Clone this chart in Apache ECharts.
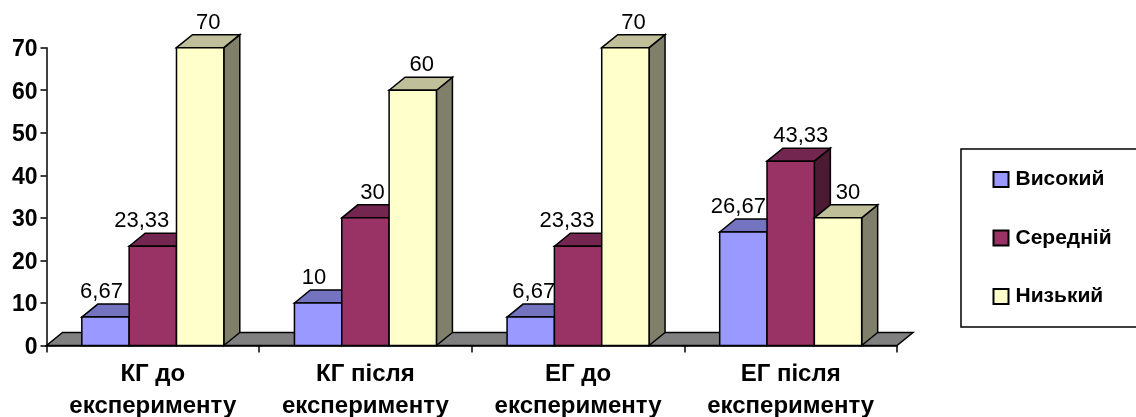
<!DOCTYPE html>
<html><head><meta charset="utf-8">
<style>html,body{margin:0;padding:0;background:#fff}#c{width:1136px;height:417px}</style>
<script src="https://cdn.jsdelivr.net/npm/echarts@6/dist/echarts.min.js"></script>
</head><body><div id="c"></div>
<script>
const categories = ['КГ до\nексперименту','КГ після\nексперименту','ЕГ до\nексперименту','ЕГ після\nексперименту'];
const seriesNames = ['Високий','Середній','Низький'];
const high = [6.67,10,6.67,26.67];
const mid = [23.33,30,23.33,43.33];
const low = [70,60,70,30];

const palette = [
  {front:'#9999FF',top:'#7373BF',side:'#4D4D80'},
  {front:'#993366',top:'#732650',side:'#4D1A33'},
  {front:'#FFFFCC',top:'#BFBF99',side:'#80806A'}
];
const labelShift = [[-4,-4,3,-5],[-11,7,-11,10],[8,9,8,10]];
const DX = 16, DY = -13, FONT = '"Liberation Sans", Arial, sans-serif';
const line = {stroke:'#000',lineWidth:1.5};
function poly(points, fill){
  return {type:'polygon',shape:{points},style:Object.assign({fill},line)};
}
function bar(s){
  return function(params, api){
    const i = api.value(0), v = api.value(1);
    const base = api.coord([i,0]), t = api.coord([i,v]);
    const band = api.size([1,0])[0], w = band*0.2226;
    const x0 = base[0]+(s-1.5)*w, x1 = x0+w, y0 = base[1], y1 = t[1];
    return {type:'group',children:[
      poly([[x1,y0],[x1+DX,y0+DY],[x1+DX,y1+DY],[x1,y1]],palette[s].side),
      poly([[x0,y1],[x0+DX,y1+DY],[x1+DX,y1+DY],[x1,y1]],palette[s].top),
      poly([[x0,y0],[x1,y0],[x1,y1],[x0,y1]],palette[s].front),
      {type:'text',z2:50,style:{text:String(v).replace('.',','),x:(x0+x1)/2+labelShift[s][i],y:y1-25,
        textAlign:'center',textVerticalAlign:'middle',fill:'#000',fontSize:22,fontFamily:FONT}}
    ]};
  };
}
function floor(params, api){
  const cs = params.coordSys;
  const b = cs.y+cs.height, l = cs.x, r = cs.x+cs.width;
  return poly([[l,b],[l+DX,b+DY],[r+DX,b+DY],[r,b]],'#808080');
}
const valueSets = [high,mid,low];
const chart = echarts.init(document.getElementById('c'),null,{renderer:'canvas'});
chart.setOption({
  animation:false,
  backgroundColor:'#fff',
  grid:{left:46.5,top:47.7,width:850.5,height:297.8,containLabel:false,outerBoundsMode:'none'},
  xAxis:{type:'category',data:categories,
    axisLine:{show:true,lineStyle:{color:'#000',width:1.5}},
    axisTick:{show:true,interval:0,length:7,lineStyle:{color:'#000',width:1.5}},
    axisLabel:{interval:0,color:'#000',fontWeight:'bold',fontSize:24,fontFamily:FONT,lineHeight:32,margin:13}},
  yAxis:{type:'value',min:0,max:70,interval:10,
    axisLine:{show:true,lineStyle:{color:'#000',width:1.5}},
    axisTick:{show:true,length:6,lineStyle:{color:'#000',width:1.5}},
    splitLine:{show:false},
    axisLabel:{color:'#000',fontWeight:'bold',fontSize:23,fontFamily:FONT,margin:9,
      formatter:'{t|{value}}',
      rich:{t:{color:'#000',fontWeight:'bold',fontSize:23,fontFamily:FONT,padding:[4,0,0,0]}}}},
  legend:{orient:'vertical',left:961,top:149,data:seriesNames,icon:'rect',
    itemWidth:15,itemHeight:15,itemGap:37.5,borderColor:'#000',borderWidth:1.5,
    padding:[20,50,20,31.5],backgroundColor:'#fff',selectedMode:false,
    textStyle:{color:'#000',fontWeight:'bold',fontSize:21,fontFamily:FONT,padding:[0,0,0,2]}},
  series:[
    {type:'custom',name:'floor',z:1,renderItem:floor,data:[[0,0]],silent:true},
    ...seriesNames.map((n,s)=>({type:'custom',name:n,z:2+s,renderItem:bar(s),
      itemStyle:{color:palette[s].front,borderColor:'#000',borderWidth:1.5},
      encode:{x:0,y:1},
      data:valueSets[s].map((v,i)=>[i,v])}))
  ]
});
</script></body></html>
